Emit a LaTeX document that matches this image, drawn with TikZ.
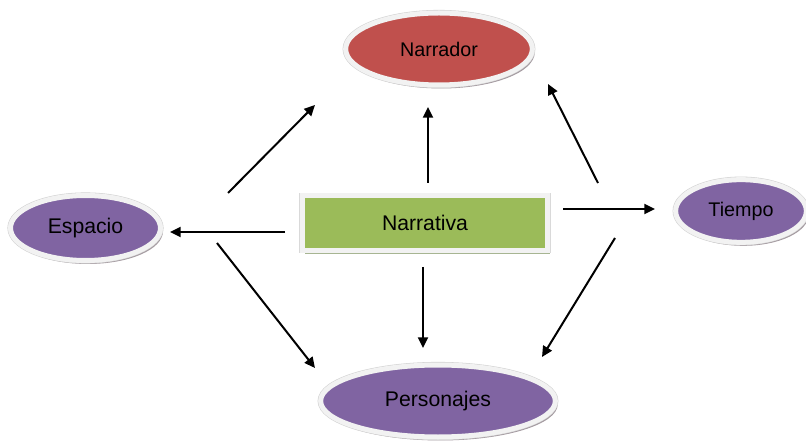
\documentclass[tikz,border=0pt]{standalone}
\usepackage{fontspec}
\setmainfont{Liberation Sans}
\usetikzlibrary{arrows.meta,shapes.geometric,shadows}
\definecolor{cred}{HTML}{C0504D}
\definecolor{cpurple}{HTML}{8064A2}
\definecolor{cgreen}{HTML}{9BBB59}
\definecolor{cborder}{HTML}{F2F2F2}
\definecolor{cshadow}{HTML}{9A8F96}
\definecolor{gshadow}{HTML}{A7B592}
\begin{document}
\begin{tikzpicture}[x=0.75pt,y=-0.75pt,
  bub/.style={ellipse, draw=cborder, line width=3.75pt, inner sep=0pt, text=black,
    drop shadow={shadow xshift=1.8pt, shadow yshift=-2.6pt, fill=cshadow, opacity=0.9},
    preaction={draw=gray!35, line width=4.6pt}},
  boxst/.style={rectangle, draw=cborder, line width=3.75pt, inner sep=0pt, fill=cgreen, text=black,
    drop shadow={shadow xshift=1.8pt, shadow yshift=-2.6pt, fill=gshadow, opacity=1},
    preaction={draw=gray!30, line width=4.4pt}},
  arr/.style={line width=1.5pt, -{Triangle[length=8pt,width=7.5pt]}},
  bigtxt/.style={font=\fontsize{15.9}{18}\selectfont},
  smalltxt/.style={font=\fontsize{14.8}{17}\selectfont}
]
\useasboundingbox (0,0) rectangle (806,441);

\node[bub, fill=cred, minimum width=140pt, minimum height=54pt, smalltxt] (narr) at (439,49) {Narrador};
\node[bub, fill=cpurple, minimum width=112.5pt, minimum height=48.75pt, bigtxt] (esp) at (85.5,228) {Espacio};
\node[bub, fill=cpurple, minimum width=98pt, minimum height=47pt, smalltxt] (tie) at (741,211) {Tiempo};
\node[bub, fill=cpurple, minimum width=176pt, minimum height=54pt, bigtxt] (per) at (438,401) {Personajes};
\node[boxst, minimum width=184pt, minimum height=41pt, bigtxt] (nva) at (425,223) {Narrativa};

\coordinate (a1s) at (228,193); \coordinate (a1e) at (315,105);
\coordinate (a2s) at (428,183); \coordinate (a2e) at (428,107);
\coordinate (a3s) at (598,183); \coordinate (a3e) at (548,84);
\coordinate (a4s) at (285,232); \coordinate (a4e) at (170,232);
\coordinate (a5s) at (563,209); \coordinate (a5e) at (655,209);
\coordinate (a6s) at (423,267); \coordinate (a6e) at (423,348);
\coordinate (a7s) at (217,243); \coordinate (a7e) at (315,368);
\coordinate (a8s) at (615,238); \coordinate (a8e) at (542,357);

\draw[arr] (a1s) -- (a1e);
\draw[arr] (a2s) -- (a2e);
\draw[arr] (a3s) -- (a3e);
\draw[arr] (a4s) -- (a4e);
\draw[arr] (a5s) -- (a5e);
\draw[arr] (a6s) -- (a6e);
\draw[arr] (a7s) -- (a7e);
\draw[arr] (a8s) -- (a8e);
\end{tikzpicture}
\end{document}
